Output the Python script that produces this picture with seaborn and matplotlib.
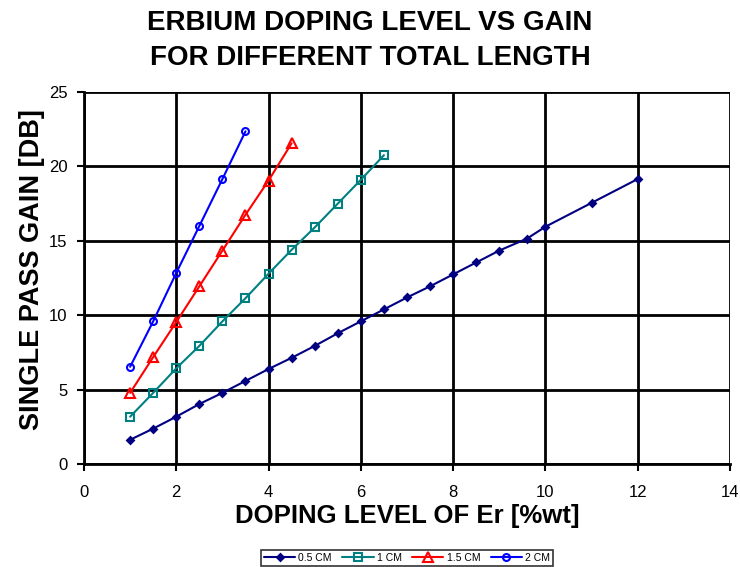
import seaborn as sns
import matplotlib.pyplot as plt
import pandas as pd

sns.set_style('white', rc={'text.color': 'black', 'axes.labelcolor': 'black',
                           'xtick.color': 'black', 'ytick.color': 'black'})
plt.rcParams['font.family'] = ['Liberation Sans', 'DejaVu Sans']

x_05 = [1, 1.5, 2, 2.5, 3, 3.5, 4, 4.5, 5, 5.5, 6, 6.5, 7, 7.5, 8, 8.5, 9, 9.6, 10, 11, 12]
y_05 = [1.65, 2.4, 3.2, 4.05, 4.8, 5.6, 6.4, 7.15, 7.95, 8.8, 9.6, 10.4, 11.2, 11.95, 12.75,
        13.55, 14.35, 15.15, 15.95, 17.55, 19.15]
x_1 = [1, 1.5, 2, 2.5, 3, 3.5, 4, 4.5, 5, 5.5, 6, 6.5]
y_1 = [3.2, 4.8, 6.45, 7.95, 9.6, 11.15, 12.8, 14.4, 15.9, 17.5, 19.1, 20.75]
x_15 = [1, 1.5, 2, 2.5, 3, 3.5, 4, 4.5]
y_15 = [4.8, 7.2, 9.55, 11.95, 14.35, 16.75, 19.05, 21.55]
x_2 = [1, 1.5, 2, 2.5, 3, 3.5]
y_2 = [6.55, 9.6, 12.85, 16.0, 19.15, 22.35]

series = [
    ('0.5 CM', x_05, y_05, '#000080', 'D', '#000080', 3.5),
    ('1 CM', x_1, y_1, '#008080', 's', 'none', 6),
    ('1.5 CM', x_15, y_15, '#ff0000', '^', 'none', 7),
    ('2 CM', x_2, y_2, '#0000ff', 'o', 'none', 5),
]

fig, ax = plt.subplots(figsize=(7.4, 5.67), dpi=100)
fig.subplots_adjust(left=0.1135, right=0.9865, top=0.838, bottom=0.181)

for name, xs, ys, color, marker, face, size in series:
    df = pd.DataFrame({'x': xs, 'y': ys})
    sns.lineplot(data=df, x='x', y='y', ax=ax, color=color, marker=marker,
                 markerfacecolor=face, markeredgecolor=color, markersize=size,
                 markeredgewidth=1.5, linewidth=1.5, label=name)

ax.set_xlim(0, 14)
ax.set_ylim(0, 25)
ax.set_xticks(range(0, 15, 2))
ax.set_yticks(range(0, 26, 5))
ax.grid(True, color='black', linewidth=2)
for side in ['top', 'right']:
    ax.spines[side].set_visible(False)
for side in ['left', 'bottom']:
    ax.spines[side].set_color('black')
    ax.spines[side].set_linewidth(2)
ax.tick_params(axis='both', labelsize=12, length=5, width=1.5, direction='out',
               bottom=True, left=True)
ax.tick_params(axis='x', pad=10)
ax.tick_params(axis='y', pad=7)

fig.suptitle('ERBIUM DOPING LEVEL VS GAIN\nFOR DIFFERENT TOTAL LENGTH',
             x=0.5, y=0.982, va='top', fontsize=20, fontweight='bold', linespacing=1.46)
ax.set_xlabel('DOPING LEVEL OF Er [%wt]', fontsize=18.5, fontweight='bold', labelpad=3)
ax.set_ylabel('SINGLE PASS GAIN [DB]', fontsize=19.5, fontweight='bold')
ax.yaxis.set_label_coords(-0.060, 0.522)

leg = ax.legend(loc='upper center', bbox_to_anchor=(0.5, -0.215), ncol=4, fontsize=7.5,
                frameon=True, fancybox=False, edgecolor='black', handlelength=3,
                columnspacing=1.0, handletextpad=0.3, borderpad=0.3)
leg.get_frame().set_linewidth(1.2)

plt.savefig('out.png', dpi=100)
